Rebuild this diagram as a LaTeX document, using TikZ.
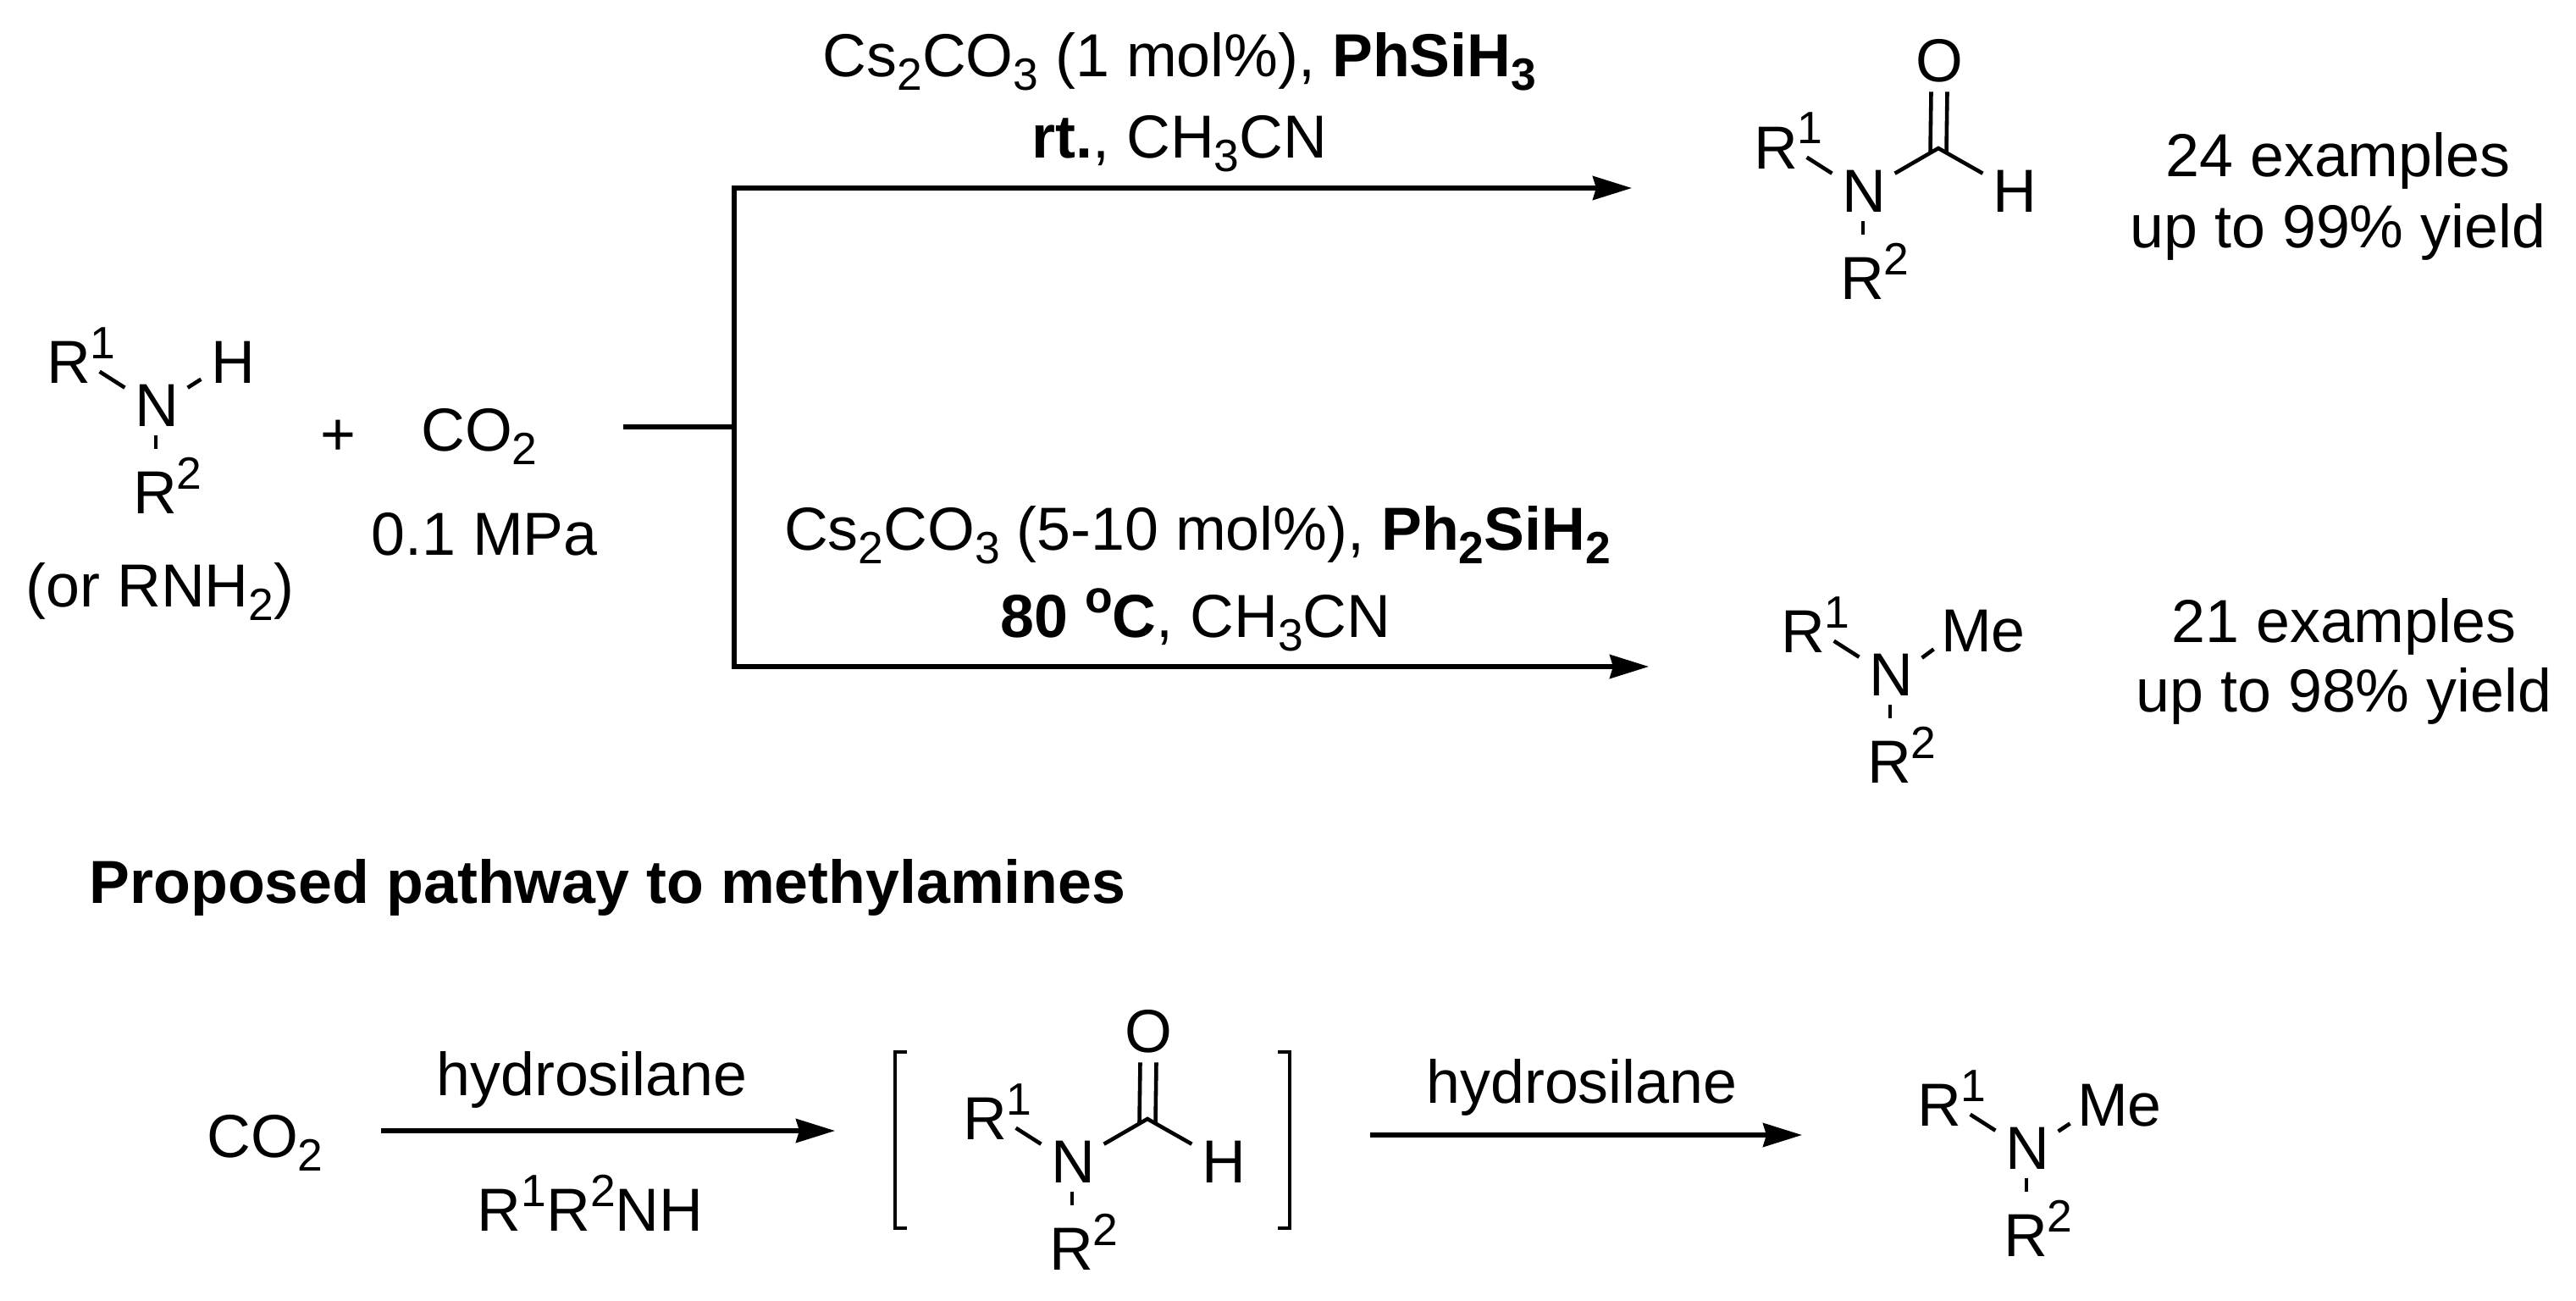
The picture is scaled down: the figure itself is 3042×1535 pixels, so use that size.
\documentclass[tikz,border=0pt]{standalone}
\usepackage{fontspec}
\setmainfont{Liberation Sans}
\usepackage{tikz}
\usetikzlibrary{arrows.meta, positioning}

\newcommand{\supnum}[1]{\raisebox{.29cm}{\fontsize{15.2}{15.2}\selectfont #1}}
\newcommand{\subnum}[1]{\raisebox{-.16cm}{\fontsize{15.2}{15.2}\selectfont #1}}
\newcommand{\rsub}[1]{R\rlap{\smash{\supnum{#1}}}}

\tikzset{
  txt/.style={font=\fontsize{20.4}{24}\selectfont, inner sep=0pt, anchor=base},
  atom/.style={txt},
  bond/.style={line width=1.3pt},
  line/.style={line width=1.45pt},
  rxn/.style={line width=1.45pt, -{Stealth[length=.46cm, width=.28cm, inset=.04cm]}},
}

\newcommand{\amine}[3]{
\begin{scope}[shift={(#2,#3)}, name prefix=#1-]
\node[atom] (n) at (0,0) {N};
\node[atom] (ra) at (-104,-51) {\rsub{1}};
\node[atom] (rb) at (-2,103) {\rsub{2}};
\draw[bond] ([shift={(10,-14)}]ra.south east) -- ([shift={(-11,-46)}]n.south west);
\draw[bond] ([shift={(-1,10)}]n.south) -- ([shift={(1,-26)}]rb.north);
\end{scope}}

\newcommand{\formyl}[3]{
\begin{scope}[shift={(#2,#3)}, name prefix=#1-]
\coordinate (c) at (88,-75);
\node[atom] (h) at (178,0) {H};
\node[atom] (o) at (89,-154) {O};
\draw[bond] ([shift={(10,-46)}]n.south east) -- (c) -- ([shift={(-11,-46)}]h.south west);
\draw[bond] ([shift={(-9.5,11)}]o.south) -- ([shift={(-9.5,4)}]c);
\draw[bond] ([shift={(9.5,11)}]o.south) -- ([shift={(9.5,4)}]c);
\end{scope}}

\begin{document}
\begin{tikzpicture}[x=0.01cm, y=-0.01cm]
\useasboundingbox (0,0) rectangle (3042,1535);

\amine{sm}{185}{503}
\node[atom] (sm-h) at (275,452) {H};
\draw[bond] ([shift={(10,-46)}]sm-n.south east) -- ([shift={(-11,-5)}]sm-h.south west);
\node[txt] (plus) at (399,537) {+};
\node[txt] (co2) at (566,532) {CO\subnum{2}};
\node[txt] (press) at (572,655) {0.1 MPa};
\node[txt] (orrnh) at (189,716) {(or RNH\subnum{2})};

\coordinate (feed) at (736,504);
\coordinate (fork) at (867,504);
\coordinate (forktop) at (867,222);
\coordinate (forkbot) at (867,787);
\coordinate (tiptop) at (1927,222);
\coordinate (tipbot) at (1947,787);
\draw[line] (feed) -- (fork);
\draw[line, line cap=rect] (forktop) -- (forkbot);
\draw[rxn] (forktop) -- (tiptop);
\draw[rxn] (forkbot) -- (tipbot);

\node[txt] (conda) at (1393,90) {Cs\subnum{2}CO\subnum{3} (1 mol\%), \textbf{PhSiH\subnum{3}}};
\node[txt] (condb) at (1393,186) {\textbf{rt.}, CH\subnum{3}CN};
\node[txt] (condc) at (1414,649) {Cs\subnum{2}CO\subnum{3} (5-10 mol\%), \textbf{Ph\subnum{2}SiH\subnum{2}}};
\node[txt] (condd) at (1412,752) {\textbf{80 \supnum{o}C}, CH\subnum{3}CN};

\amine{fa}{2201}{250}
\formyl{fa}{2201}{250}
\node[txt] (exa) at (2761,208) {24 examples};
\node[txt] (yla) at (2761,292) {up to 99\% yield};

\amine{ma}{2233}{821}
\node[atom] (ma-me) at (2342,769) {Me};
\draw[bond] ([shift={(10,-45)}]ma-n.south east) -- ([shift={(-8,-4)}]ma-me.south west);
\node[txt] (exb) at (2768,758) {21 examples};
\node[txt] (ylb) at (2768,840) {up to 98\% yield};

\node[txt, anchor=base west] (title) at (105,1066) {\textbf{Proposed pathway to methylamines}};

\node[txt] (co2b) at (313,1366) {CO\subnum{2}};
\coordinate (aa) at (450,1335);
\coordinate (ab) at (986,1335);
\draw[rxn] (aa) -- (ab);
\node[txt] (hyda) at (699,1293) {hydrosilane};
\node[txt] (amn) at (697,1453) {R\supnum{1}R\supnum{2}NH};

\amine{im}{1267}{1396}
\formyl{im}{1267}{1396}
\draw[bond] (1071,1242) -- (1057,1242) -- (1057,1450) -- (1071,1450);
\draw[bond] (1509,1242) -- (1523,1242) -- (1523,1450) -- (1509,1450);

\coordinate (ac) at (1618,1340);
\coordinate (ad) at (2128,1340);
\draw[rxn] (ac) -- (ad);
\node[txt] (hydb) at (1868,1302) {hydrosilane};

\amine{mb}{2394}{1380}
\node[atom] (mb-me) at (2503,1329) {Me};
\draw[bond] ([shift={(10,-45)}]mb-n.south east) -- ([shift={(-8,-4)}]mb-me.south west);
\end{tikzpicture}
\end{document}
